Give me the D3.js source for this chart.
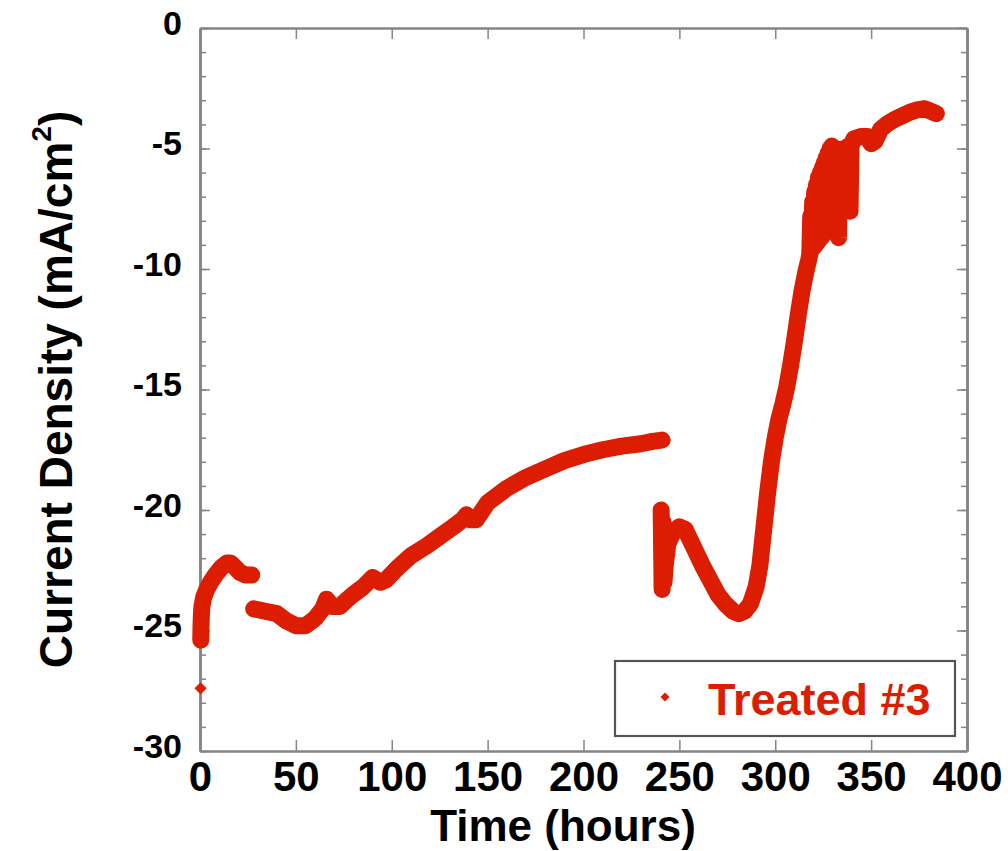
<!DOCTYPE html>
<html>
<head>
<meta charset="utf-8">
<script src="https://cdn.jsdelivr.net/npm/d3@7"></script>
<style>
  html, body { margin: 0; padding: 0; background: #fff; }
  svg { display: block; }
  text { font-family: "Liberation Sans", Arial, Helvetica, sans-serif; font-weight: bold; }
</style>
</head>
<body>
<svg id="chart" width="1008" height="851"></svg>
<script>
// ---- data ----
const xTicks = [0, 50, 100, 150, 200, 250, 300, 350, 400];
const yTicks = [0, -5, -10, -15, -20, -25, -30];
const yMinorTicks = d3.range(0, -31, -1);

const seriesName = "Treated #3";
const xTitle = "Time (hours)";

const isolatedHours = [0.3];
const isolatedValues = [-27.4];

const seg1Hours  = [0.4, 0.5, 0.7, 1, 2, 3.5, 5.5, 8, 11, 14, 16, 18.5, 21, 24, 27];
const seg1Values = [-25.4, -24.9, -24.4, -24.0, -23.6, -23.3, -23.0, -22.7, -22.4, -22.2, -22.2, -22.4, -22.6, -22.7, -22.7];

const seg2Hours  = [28, 34, 40, 45, 50, 55, 60, 64, 66, 69, 73, 77, 80, 85, 90, 94, 97, 103, 110, 118, 125, 132, 137, 139, 141, 144, 150, 160, 170, 180, 190, 200, 210, 220, 230, 236, 241];
const seg2Values = [-24.1, -24.2, -24.3, -24.6, -24.8, -24.8, -24.5, -24.1, -23.7, -24.0, -24.0, -23.7, -23.5, -23.2, -22.8, -23.0, -22.9, -22.4, -21.9, -21.5, -21.1, -20.7, -20.4, -20.2, -20.4, -20.4, -19.7, -19.1, -18.65, -18.3, -17.95, -17.7, -17.5, -17.35, -17.25, -17.15, -17.1];

const seg3Hours  = [240.5, 241, 241.5, 242, 242.5, 244, 247, 250, 253, 256, 259, 262, 266, 270, 274, 278, 281, 284, 287, 290, 292, 294, 296, 298, 300, 302, 304, 306, 308, 310, 312, 314, 316, 317.5,
                    318, 318.5, 319, 319.5, 320, 320.5, 321, 321.5, 322, 322.5, 323, 323.5, 324, 324.5, 325, 325.5, 326, 326.5, 327, 327.5,
                    328, 328.5, 329, 329.5, 330, 330.5, 331, 331.5, 332, 332.5, 333, 333.5, 334, 335, 336, 337, 338, 338.5, 339, 339.5,
                    341, 345, 348, 350, 352, 355, 358, 362, 366, 370, 374, 378, 381, 384];
const seg3Values = [-20.0, -23.3, -20.5, -23.0, -22.4, -21.4, -20.9, -20.7, -20.8, -21.3, -21.8, -22.3, -22.9, -23.5, -23.9, -24.2, -24.3, -24.2, -23.9, -23.2, -22.3, -20.8, -19.3, -18.0, -17.0, -16.2, -15.6, -14.9, -14.0, -13.0, -11.9, -10.9, -10.1, -9.6,
                    -9.4, -7.8, -9.2, -7.2, -9.1, -6.8, -9.0, -6.5, -8.9, -6.2, -8.8, -6.0, -8.7, -5.8, -8.6, -5.6, -8.5, -5.4, -8.4, -5.2,
                    -8.3, -5.0, -8.2, -4.9, -8.1, -5.0, -8.2, -5.0, -8.5, -5.1, -8.7, -5.2, -6.0, -5.1, -5.0, -5.0, -4.9, -7.5, -7.6, -4.9,
                    -4.6, -4.5, -4.5, -4.8, -4.7, -4.2, -4.0, -3.8, -3.65, -3.5, -3.4, -3.35, -3.45, -3.55];

const segments = [
  [seg1Hours, seg1Values],
  [seg2Hours, seg2Values],
  [seg3Hours, seg3Values]
];

// ---- layout ----
const svg = d3.select("#chart");
const plotLeft = 200, plotRight = 967, plotTop = 28, plotBottom = 751;
const red = "#dc1d02";
const axisGray = "#858585";

const x = d3.scaleLinear().domain([0, 400]).range([plotLeft, plotRight]);
const y = d3.scaleLinear().domain([-30, 0]).range([plotBottom, plotTop]);

// ---- axes ----
function styleAxis(g) {
  g.select(".domain").attr("stroke", axisGray).attr("stroke-width", 2.5);
  g.selectAll(".tick line").attr("stroke", axisGray).attr("stroke-width", 1.5);
}
const fmt = d => String(d);

// minor y ticks (left & right)
svg.append("g").attr("transform", `translate(${plotLeft},0)`)
  .call(d3.axisLeft(y).tickValues(yMinorTicks).tickSizeInner(-6).tickSizeOuter(0).tickFormat(""))
  .call(styleAxis);
svg.append("g").attr("transform", `translate(${plotRight},0)`)
  .call(d3.axisRight(y).tickValues(yMinorTicks).tickSizeInner(-6).tickSizeOuter(0).tickFormat(""))
  .call(styleAxis);

// major y ticks
const yAxisL = svg.append("g").attr("transform", `translate(${plotLeft},0)`)
  .call(d3.axisLeft(y).tickValues(yTicks).tickSizeInner(-10).tickSizeOuter(0).tickPadding(18).tickFormat(fmt))
  .call(styleAxis);
yAxisL.selectAll(".tick text")
  .attr("font-size", 34).attr("font-family", "Liberation Sans, Arial, sans-serif")
  .attr("font-weight", "bold").attr("fill", "#000").attr("dy", "0.18em");
svg.append("g").attr("transform", `translate(${plotRight},0)`)
  .call(d3.axisRight(y).tickValues(yTicks).tickSizeInner(-10).tickSizeOuter(0).tickFormat(""))
  .call(styleAxis);

// x axes
const xAxisB = svg.append("g").attr("transform", `translate(0,${plotBottom})`)
  .call(d3.axisBottom(x).tickValues(xTicks).tickSizeInner(-11).tickSizeOuter(0).tickPadding(10).tickFormat(fmt))
  .call(styleAxis);
xAxisB.selectAll(".tick text")
  .attr("font-size", 42).attr("font-family", "Liberation Sans, Arial, sans-serif")
  .attr("font-weight", "bold").attr("fill", "#000");
svg.append("g").attr("transform", `translate(0,${plotTop})`)
  .call(d3.axisTop(x).tickValues(xTicks).tickSizeInner(-11).tickSizeOuter(0).tickFormat(""))
  .call(styleAxis);

// ---- data marks (drawn over the axes) ----
const line = d3.line().x(d => x(d[0])).y(d => y(d[1]));
const dataG = svg.append("g");
segments.forEach(([hs, vs]) => {
  const pts = hs.map((h, i) => [h, vs[i]]);
  dataG.append("path")
    .attr("d", line(pts))
    .attr("fill", "none")
    .attr("stroke", red)
    .attr("stroke-width", 17)
    .attr("stroke-linejoin", "round")
    .attr("stroke-linecap", "round");
});
// square diamond marker (a square rotated by 45 degrees)
const square = d3.symbol().type(d3.symbolSquare);
isolatedHours.forEach((h, i) => {
  dataG.append("path")
    .attr("d", square.size(75)())
    .attr("transform", `translate(${x(h)},${y(isolatedValues[i])}) rotate(45)`)
    .attr("fill", red);
});

// ---- titles ----
svg.append("text")
  .attr("x", 563).attr("y", 841)
  .attr("text-anchor", "middle")
  .attr("font-size", 44).attr("fill", "#000")
  .text(xTitle);

const yTitle = svg.append("text")
  .attr("transform", `translate(72,${(plotTop + plotBottom) / 2}) rotate(-90)`)
  .attr("text-anchor", "middle")
  .attr("font-size", 46).attr("fill", "#000");
yTitle.append("tspan").text("Current Density (mA/cm");
yTitle.append("tspan").attr("font-size", 28).attr("dy", "-0.75em").text("2");
yTitle.append("tspan").attr("dy", "0.45em").text(")");

// ---- legend ----
const lg = svg.append("g");
lg.append("rect")
  .attr("x", 615).attr("y", 661).attr("width", 340).attr("height", 75)
  .attr("fill", "#fff").attr("stroke", "#555").attr("stroke-width", 2.2);
lg.append("path")
  .attr("d", square.size(40)())
  .attr("transform", "translate(665,697) rotate(45)")
  .attr("fill", red);
lg.append("text")
  .attr("x", 708).attr("y", 715)
  .attr("font-size", 45).attr("fill", red)
  .text(seriesName);
</script>
</body>
</html>
